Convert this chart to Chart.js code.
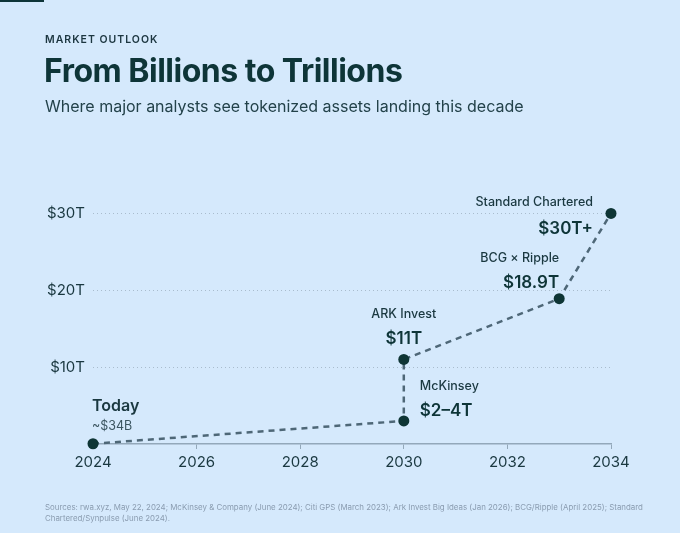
<!DOCTYPE html>
<html>
<head>
<meta charset="utf-8">
<script src="https://cdn.jsdelivr.net/npm/chart.js@4"></script>
<style>
  html, body { margin: 0; padding: 0; }
  body {
    width: 680px; height: 533px; overflow: hidden; position: relative;
    background: #d5e9fc; font-family: Inter, "Noto Sans", sans-serif; color: #0e3538;
  }
  .topbar { position: absolute; left: 0; top: 0; width: 44px; height: 2px; background: #0e3538; }
  .kicker { position: absolute; left: 45px; top: 33px; font-size: 10.5px; font-weight: 600; letter-spacing: 1px; color: #1c3640; }
  .title { position: absolute; left: 44px; top: 51px; font-size: 32px; font-weight: 700; letter-spacing: -0.5px; color: #0e3538; }
  .sub { position: absolute; left: 45px; top: 96px; font-size: 16px; color: #23424a; }
  .src { position: absolute; left: 45px; top: 502px; width: 622px; font-size: 7.9px; line-height: 10.5px; color: #8a9cb0; }
  #wrap { position: absolute; left: 0; top: 0; width: 680px; height: 533px; }
</style>
</head>
<body>
<div id="wrap"><canvas id="grafico"></canvas></div>
<div class="topbar"></div>
<div class="kicker">MARKET OUTLOOK</div>
<div class="title">From Billions to Trillions</div>
<div class="sub">Where major analysts see tokenized assets landing this decade</div>
<div class="src">Sources: rwa.xyz, May 22, 2024; McKinsey &amp; Company (June 2024); Citi GPS (March 2023); Ark Invest Big Ideas (Jan 2026); BCG/Ripple (April 2025); Standard Chartered/Synpulse (June 2024).</div>
<script>
// Anos e valores (trilhões de US$)
const anos = [2024, 2030, 2030, 2033, 2034];
const valores = [0.034, 3, 11, 18.9, 30];
const fontes = ['Today', 'McKinsey', 'ARK Invest', 'BCG × Ripple', 'Standard Chartered'];
const rotulosValor = ['~$34B', '$2–4T', '$11T', '$18.9T', '$30T+'];
const ticksX = [2024, 2026, 2028, 2030, 2032, 2034];
const ticksY = [0, 10, 20, 30];

// Posição de cada rótulo em relação ao ponto
const estilosRotulo = [
  { align: 'left', dx: -1, nomeDy: -33, valorDy: -14, nomeFont: '600 16px Inter', valorFont: '400 12.5px Inter', valorCor: '#3b5560' },
  { align: 'left', dx: 16, nomeDy: -31, valorDy: -5, nomeFont: '500 12.5px Inter', valorFont: '600 17px Inter', valorCor: '#0e3538' },
  { align: 'center', dx: 0, nomeDy: -41, valorDy: -15, nomeFont: '500 12.5px Inter', valorFont: '600 17px Inter', valorCor: '#0e3538' },
  { align: 'right', dx: 0, nomeDy: -37, valorDy: -11, nomeFont: '500 12.5px Inter', valorFont: '600 17px Inter', valorCor: '#0e3538' },
  { align: 'right', dx: -18, nomeDy: -7, valorDy: 21, nomeFont: '500 12.5px Inter', valorFont: '600 17px Inter', valorCor: '#0e3538' }
];

const pluginRotulos = {
  id: 'rotulos',
  afterDatasetsDraw(chart) {
    const c = chart.ctx;
    const sx = chart.scales.x, sy = chart.scales.y;
    c.save();
    c.textBaseline = 'alphabetic';
    anos.forEach((ano, i) => {
      const px = sx.getPixelForValue(ano);
      const py = sy.getPixelForValue(valores[i]);
      const e = estilosRotulo[i];
      c.textAlign = e.align;
      c.font = e.nomeFont;
      c.fillStyle = '#1a3840';
      c.fillText(fontes[i], px + e.dx, py + e.nomeDy);
      c.font = e.valorFont;
      c.fillStyle = e.valorCor;
      c.fillText(rotulosValor[i], px + e.dx, py + e.valorDy);
    });
    c.restore();
  }
};

const ctx = document.getElementById('grafico').getContext('2d');
new Chart(ctx, {
  type: 'line',
  data: {
    datasets: [{
      data: anos.map((a, i) => ({ x: a, y: valores[i] })),
      borderColor: '#4e6777',
      borderWidth: 2.5,
      borderDash: [6, 5],
      pointRadius: 5.5,
      pointBackgroundColor: '#0e3535',
      pointBorderWidth: 0,
      tension: 0,
      clip: false
    }]
  },
  options: {
    responsive: true,
    maintainAspectRatio: false,
    animation: false,
    layout: { padding: { top: 198, right: 69, bottom: 52, left: 0 } },
    plugins: { legend: { display: false }, tooltip: { enabled: false } },
    scales: {
      x: {
        type: 'linear',
        min: 2024,
        max: 2034,
        afterBuildTicks: (s) => { s.ticks = ticksX.map(v => ({ value: v })); },
        afterFit: (s) => { s.height = 37; },
        border: { display: true, color: '#93a8ba', width: 1.5 },
        grid: { drawOnChartArea: false, drawTicks: true, tickLength: 5, color: '#93a8ba' },
        ticks: { color: '#1a3840', font: { family: 'Inter', size: 15 }, padding: 4, maxRotation: 0,
          callback: (v) => String(v) }
      },
      y: {
        min: 0,
        max: 32,
        afterBuildTicks: (s) => { s.ticks = ticksY.map(v => ({ value: v })); },
        afterFit: (s) => { s.width = 93; },
        border: { display: false, dash: [1, 3] },
        grid: {
          drawTicks: false,
          color: (c) => c.tick && c.tick.value === 0 ? 'rgba(0,0,0,0)' : '#a9bccd',
          lineWidth: 1
        },
        ticks: { color: '#1a3840', font: { family: 'Inter', size: 15 }, padding: 8,
          callback: (v) => v === 0 ? '' : '$' + v + 'T' }
      }
    }
  },
  plugins: [pluginRotulos]
});
</script>
</body>
</html>
